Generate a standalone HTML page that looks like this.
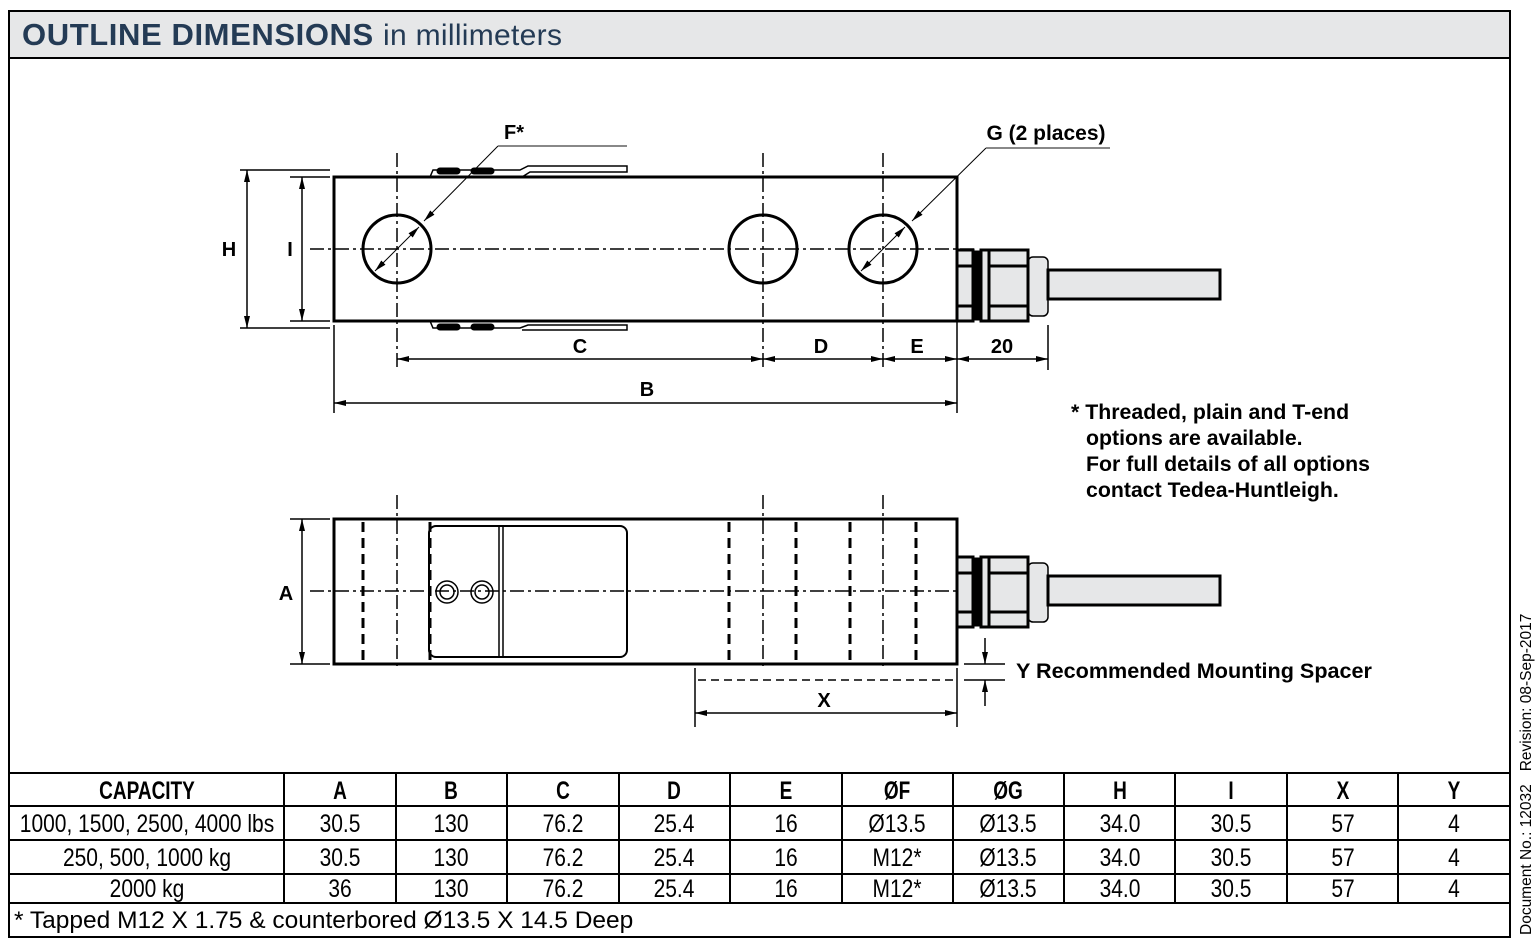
<!DOCTYPE html>
<html><head><meta charset="utf-8"><style>
html,body{margin:0;padding:0;background:#fff;}
svg{display:block;}
text{font-family:"Liberation Sans",sans-serif;}
.t{font-size:25px;text-anchor:middle;}
.b{font-weight:bold;}
</style></head><body>
<svg width="1538" height="947" viewBox="0 0 1538 947" xmlns="http://www.w3.org/2000/svg">
<defs>
<marker id="ar" markerWidth="12" markerHeight="8" refX="12" refY="4" orient="auto-start-reverse" markerUnits="userSpaceOnUse"><path d="M0,1 L12,4 L0,7 z" fill="#000"/></marker>
</defs>
<rect x="9" y="11" width="1501" height="47" fill="#e6e7e8"/>
<rect x="9" y="11" width="1501" height="926" fill="none" stroke="#000" stroke-width="2"/>
<line x1="9" y1="58" x2="1510" y2="58" stroke="#000" stroke-width="2"/>
<text x="22" y="45" font-size="31" font-weight="bold" fill="#243b55" letter-spacing="0.6">OUTLINE DIMENSIONS <tspan font-weight="normal" font-size="30" letter-spacing="0.3">in millimeters</tspan></text>

<g stroke="#000" fill="none">
<path d="M430,177 L433,170 L520,170 L528,166 L627,166 L627,172 L530,172 L522,177" stroke-width="1.5" fill="#fff"/>
<rect x="437" y="168" width="23" height="6" rx="3" fill="#000"/>
<rect x="471" y="168" width="23" height="6" rx="3" fill="#000"/>
<path d="M430,321 L433,328 L520,328 L528,325 L627,325 L627,330 L530,330 L522,330" stroke-width="1.5" fill="#fff"/>
<rect x="437" y="324" width="23" height="6" rx="3" fill="#000"/>
<rect x="471" y="324" width="23" height="6" rx="3" fill="#000"/>
<rect x="334" y="177" width="623" height="144" stroke-width="3" fill="#fff"/>
<circle cx="397" cy="249" r="34" stroke-width="3"/>
<circle cx="763" cy="249" r="34" stroke-width="3"/>
<circle cx="883" cy="249" r="34" stroke-width="3"/>
<line x1="310" y1="249" x2="975" y2="249" stroke-width="1.5" stroke-dasharray="14,4,3,4"/>
<line x1="397" y1="153" x2="397" y2="370" stroke-width="1.5" stroke-dasharray="14,4,3,4"/>
<line x1="763" y1="153" x2="763" y2="370" stroke-width="1.5" stroke-dasharray="14,4,3,4"/>
<line x1="883" y1="153" x2="883" y2="370" stroke-width="1.5" stroke-dasharray="14,4,3,4"/>
<line x1="375" y1="271" x2="419" y2="227" stroke-width="1" marker-start="url(#ar)" marker-end="url(#ar)"/>
<line x1="861" y1="271" x2="905" y2="227" stroke-width="1" marker-start="url(#ar)" marker-end="url(#ar)"/>
<path d="M498,146 L424,221" stroke-width="1" marker-end="url(#ar)"/>
<line x1="498" y1="146" x2="627" y2="146" stroke="#888" stroke-width="2"/>
<path d="M986,148 L912,221" stroke-width="1" marker-end="url(#ar)"/>
<line x1="986" y1="148" x2="1110" y2="148" stroke="#888" stroke-width="2"/>
<g stroke-width="3" fill="#e6e7e8">
<rect x="1028" y="257" width="20" height="59" rx="5" stroke-width="1.5"/>
<rect x="1048" y="270" width="172" height="29"/>
<rect x="957" y="250" width="16" height="71"/>
<line x1="957" y1="266" x2="973" y2="266"/><line x1="957" y1="306" x2="973" y2="306"/>
<rect x="975" y="252" width="6" height="67" fill="#000"/>
<rect x="981" y="250" width="47" height="71"/>
<line x1="989" y1="250" x2="989" y2="321"/>
<line x1="989" y1="266" x2="1028" y2="266"/><line x1="989" y1="306" x2="1028" y2="306"/>
</g>
<line x1="240" y1="170" x2="330" y2="170" stroke-width="1.5"/>
<line x1="240" y1="328" x2="330" y2="328" stroke-width="1.5"/>
<line x1="290" y1="177" x2="330" y2="177" stroke-width="1.5"/>
<line x1="290" y1="321" x2="330" y2="321" stroke-width="1.5"/>
<line x1="247" y1="170" x2="247" y2="328" stroke-width="1.5" marker-start="url(#ar)" marker-end="url(#ar)"/>
<line x1="302" y1="177" x2="302" y2="321" stroke-width="1.5" marker-start="url(#ar)" marker-end="url(#ar)"/>
<line x1="334" y1="325" x2="334" y2="413" stroke-width="1.5"/>
<line x1="957" y1="321" x2="957" y2="413" stroke-width="1.5"/>
<line x1="1048" y1="325" x2="1048" y2="370" stroke-width="1.5"/>
<line x1="397" y1="359" x2="763" y2="359" stroke-width="1.5" marker-start="url(#ar)" marker-end="url(#ar)"/>
<line x1="763" y1="359" x2="883" y2="359" stroke-width="1.5" marker-start="url(#ar)" marker-end="url(#ar)"/>
<line x1="883" y1="359" x2="957" y2="359" stroke-width="1.5" marker-start="url(#ar)" marker-end="url(#ar)"/>
<line x1="957" y1="359" x2="1048" y2="359" stroke-width="1.5" marker-start="url(#ar)" marker-end="url(#ar)"/>
<line x1="334" y1="403" x2="957" y2="403" stroke-width="1.5" marker-start="url(#ar)" marker-end="url(#ar)"/>
</g>
<g font-size="20" font-weight="bold" text-anchor="middle">
<text x="514" y="139">F*</text>
<text x="1046" y="140" font-size="21">G (2 places)</text>
<text x="229" y="256">H</text>
<text x="290" y="256">I</text>
<text x="580" y="353">C</text>
<text x="821" y="353">D</text>
<text x="917" y="353">E</text>
<text x="1002" y="353">20</text>
<text x="647" y="396">B</text>
<text x="286" y="600">A</text>
<text x="824" y="707">X</text>
</g>
<g font-size="21.3" font-weight="bold">
<text x="1071" y="419">* Threaded, plain and T-end</text>
<text x="1086" y="445">options are available.</text>
<text x="1086" y="471">For full details of all options</text>
<text x="1086" y="497">contact Tedea-Huntleigh.</text>
<text x="1016" y="678" font-size="21.6">Y Recommended Mounting Spacer</text>
</g>

<g stroke="#000" fill="none">
<rect x="334" y="519" width="623" height="145" stroke-width="3" fill="#fff"/>
<rect x="429" y="526" width="198" height="131" rx="7" stroke-width="2"/>
<line x1="499" y1="526" x2="499" y2="657" stroke-width="1.5"/>
<line x1="503" y1="526" x2="503" y2="657" stroke-width="1.5"/>
<circle cx="447" cy="592" r="11" stroke-width="1.5"/><circle cx="447" cy="592" r="7" stroke-width="1.5"/>
<circle cx="482" cy="592" r="11" stroke-width="1.5"/><circle cx="482" cy="592" r="7" stroke-width="1.5"/>
<g stroke-width="3" stroke-dasharray="10,6">
<line x1="363" y1="522" x2="363" y2="662"/>
<line x1="430" y1="522" x2="430" y2="662"/>
<line x1="729" y1="522" x2="729" y2="662"/>
<line x1="796" y1="522" x2="796" y2="662"/>
<line x1="850" y1="522" x2="850" y2="662"/>
<line x1="916" y1="522" x2="916" y2="662"/>
</g>
<line x1="310" y1="591" x2="957" y2="591" stroke-width="1.5" stroke-dasharray="14,4,3,4"/>
<line x1="397" y1="495" x2="397" y2="670" stroke-width="1.5" stroke-dasharray="14,4,3,4"/>
<line x1="763" y1="495" x2="763" y2="670" stroke-width="1.5" stroke-dasharray="14,4,3,4"/>
<line x1="883" y1="495" x2="883" y2="670" stroke-width="1.5" stroke-dasharray="14,4,3,4"/>
<g stroke-width="3" fill="#e6e7e8">
<rect x="1028" y="563" width="20" height="59" rx="5" stroke-width="1.5"/>
<rect x="1048" y="576" width="172" height="29"/>
<rect x="957" y="557" width="16" height="70"/>
<line x1="957" y1="573" x2="973" y2="573"/><line x1="957" y1="612" x2="973" y2="612"/>
<rect x="975" y="559" width="6" height="66" fill="#000"/>
<rect x="981" y="557" width="47" height="70"/>
<line x1="989" y1="557" x2="989" y2="627"/>
<line x1="989" y1="573" x2="1028" y2="573"/><line x1="989" y1="612" x2="1028" y2="612"/>
</g>
<line x1="290" y1="519" x2="330" y2="519" stroke-width="1.5"/>
<line x1="290" y1="664" x2="330" y2="664" stroke-width="1.5"/>
<line x1="302" y1="519" x2="302" y2="664" stroke-width="1.5" marker-start="url(#ar)" marker-end="url(#ar)"/>
<line x1="698" y1="680" x2="957" y2="680" stroke-width="1.5" stroke-dasharray="8,5"/>
<line x1="964" y1="680" x2="1005" y2="680" stroke-width="1.5"/>
<line x1="964" y1="664" x2="1005" y2="664" stroke-width="1.5"/>
<line x1="985" y1="638" x2="985" y2="664" stroke-width="1.5" marker-end="url(#ar)"/>
<line x1="985" y1="706" x2="985" y2="680" stroke-width="1.5" marker-end="url(#ar)"/>
<line x1="695" y1="668" x2="695" y2="727" stroke-width="1.5"/>
<line x1="957" y1="668" x2="957" y2="727" stroke-width="1.5"/>
<line x1="695" y1="713" x2="957" y2="713" stroke-width="1.5" marker-start="url(#ar)" marker-end="url(#ar)"/>
</g>

<g stroke="#000" stroke-width="2">
<line x1="9" y1="773" x2="1510" y2="773"/>
<line x1="9" y1="806" x2="1510" y2="806"/>
<line x1="9" y1="840" x2="1510" y2="840"/>
<line x1="9" y1="874" x2="1510" y2="874"/>
<line x1="9" y1="903" x2="1510" y2="903"/>
<line x1="284" y1="773" x2="284" y2="903"/><line x1="396" y1="773" x2="396" y2="903"/>
<line x1="507" y1="773" x2="507" y2="903"/><line x1="619" y1="773" x2="619" y2="903"/>
<line x1="730" y1="773" x2="730" y2="903"/><line x1="842" y1="773" x2="842" y2="903"/>
<line x1="953" y1="773" x2="953" y2="903"/><line x1="1064" y1="773" x2="1064" y2="903"/>
<line x1="1175" y1="773" x2="1175" y2="903"/><line x1="1287" y1="773" x2="1287" y2="903"/>
<line x1="1398" y1="773" x2="1398" y2="903"/>
</g>
<g>
<text class="t b" transform="translate(147,799) scale(0.76,1)">CAPACITY</text>
<text class="t b" transform="translate(340,799) scale(0.76,1)">A</text>
<text class="t b" transform="translate(451,799) scale(0.76,1)">B</text>
<text class="t b" transform="translate(563,799) scale(0.76,1)">C</text>
<text class="t b" transform="translate(674,799) scale(0.76,1)">D</text>
<text class="t b" transform="translate(786,799) scale(0.76,1)">E</text>
<text class="t b" transform="translate(897,799) scale(0.76,1)">ØF</text>
<text class="t b" transform="translate(1008,799) scale(0.76,1)">ØG</text>
<text class="t b" transform="translate(1120,799) scale(0.76,1)">H</text>
<text class="t b" transform="translate(1231,799) scale(0.76,1)">I</text>
<text class="t b" transform="translate(1343,799) scale(0.76,1)">X</text>
<text class="t b" transform="translate(1454,799) scale(0.76,1)">Y</text>
</g>
<g>
<text class="t" transform="translate(147,832) scale(0.84,1)">1000, 1500, 2500, 4000 lbs</text>
<text class="t" transform="translate(340,832) scale(0.84,1)">30.5</text>
<text class="t" transform="translate(451,832) scale(0.84,1)">130</text>
<text class="t" transform="translate(563,832) scale(0.84,1)">76.2</text>
<text class="t" transform="translate(674,832) scale(0.84,1)">25.4</text>
<text class="t" transform="translate(786,832) scale(0.84,1)">16</text>
<text class="t" transform="translate(897,832) scale(0.84,1)">Ø13.5</text>
<text class="t" transform="translate(1008,832) scale(0.84,1)">Ø13.5</text>
<text class="t" transform="translate(1120,832) scale(0.84,1)">34.0</text>
<text class="t" transform="translate(1231,832) scale(0.84,1)">30.5</text>
<text class="t" transform="translate(1343,832) scale(0.84,1)">57</text>
<text class="t" transform="translate(1454,832) scale(0.84,1)">4</text>
<text class="t" transform="translate(147,866) scale(0.84,1)">250, 500, 1000 kg</text>
<text class="t" transform="translate(340,866) scale(0.84,1)">30.5</text>
<text class="t" transform="translate(451,866) scale(0.84,1)">130</text>
<text class="t" transform="translate(563,866) scale(0.84,1)">76.2</text>
<text class="t" transform="translate(674,866) scale(0.84,1)">25.4</text>
<text class="t" transform="translate(786,866) scale(0.84,1)">16</text>
<text class="t" transform="translate(897,866) scale(0.84,1)">M12*</text>
<text class="t" transform="translate(1008,866) scale(0.84,1)">Ø13.5</text>
<text class="t" transform="translate(1120,866) scale(0.84,1)">34.0</text>
<text class="t" transform="translate(1231,866) scale(0.84,1)">30.5</text>
<text class="t" transform="translate(1343,866) scale(0.84,1)">57</text>
<text class="t" transform="translate(1454,866) scale(0.84,1)">4</text>
<text class="t" transform="translate(147,897) scale(0.84,1)">2000 kg</text>
<text class="t" transform="translate(340,897) scale(0.84,1)">36</text>
<text class="t" transform="translate(451,897) scale(0.84,1)">130</text>
<text class="t" transform="translate(563,897) scale(0.84,1)">76.2</text>
<text class="t" transform="translate(674,897) scale(0.84,1)">25.4</text>
<text class="t" transform="translate(786,897) scale(0.84,1)">16</text>
<text class="t" transform="translate(897,897) scale(0.84,1)">M12*</text>
<text class="t" transform="translate(1008,897) scale(0.84,1)">Ø13.5</text>
<text class="t" transform="translate(1120,897) scale(0.84,1)">34.0</text>
<text class="t" transform="translate(1231,897) scale(0.84,1)">30.5</text>
<text class="t" transform="translate(1343,897) scale(0.84,1)">57</text>
<text class="t" transform="translate(1454,897) scale(0.84,1)">4</text>
</g>
<text x="14" y="928" font-size="24.5">* Tapped M12 X 1.75 &amp; counterbored Ø13.5 X 14.5 Deep</text>
<text transform="translate(1531,935) rotate(-90)" font-size="15.5" xml:space="preserve">Document No.: 12032   Revision: 08-Sep-2017</text>
</svg>
</body></html>
